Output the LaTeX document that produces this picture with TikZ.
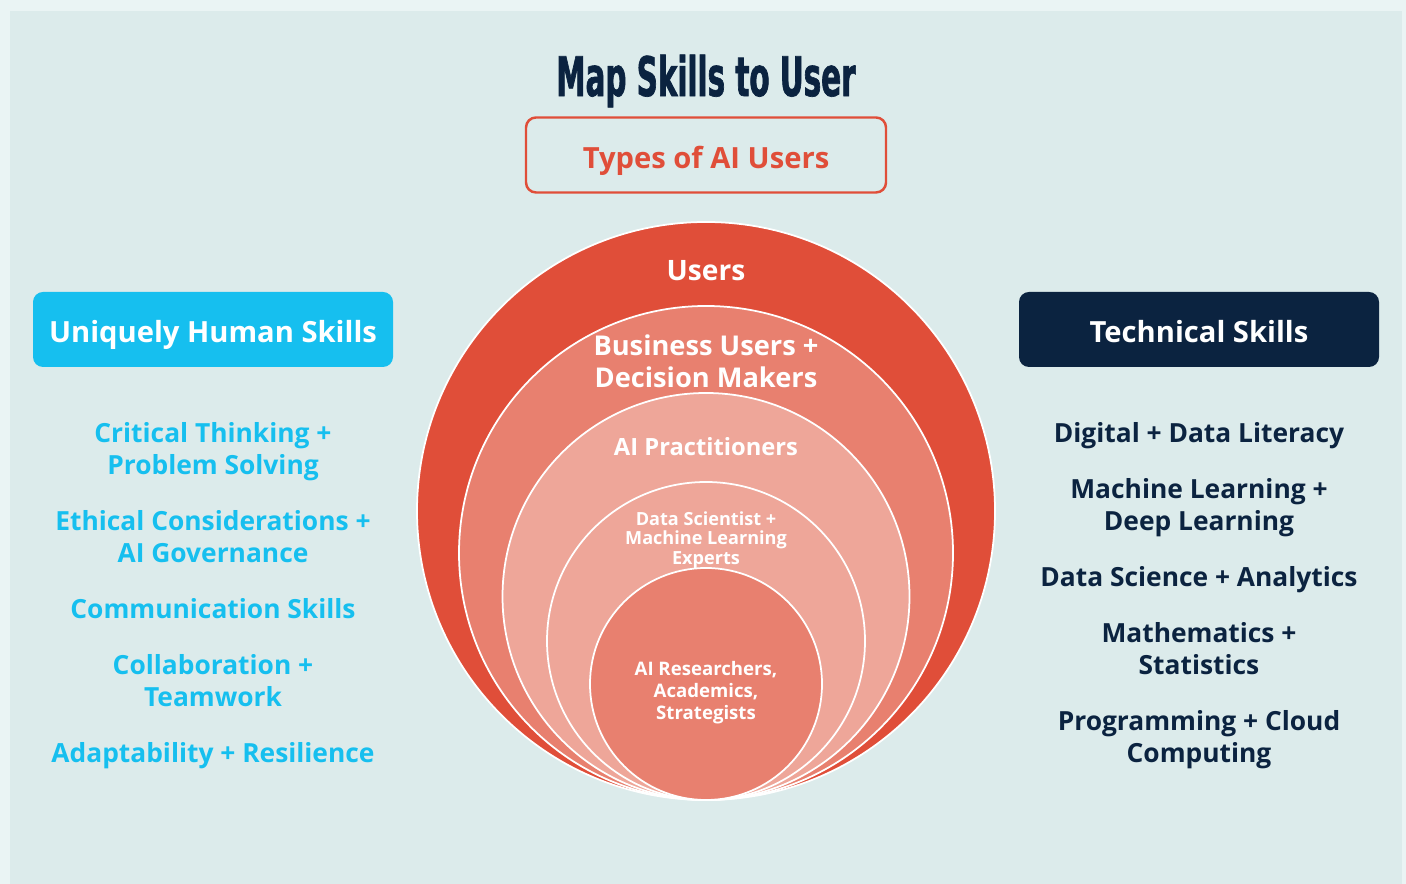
\documentclass[tikz,border=0pt]{standalone}
\usepackage{fontspec}
\setmainfont{Open Sans}
\newfontfamily\skillMapTitleFont[FakeStretch=0.6,FakeBold=1.2]{DejaVu Sans Condensed}

\definecolor{skillMapBackground}{RGB}{234,244,244}
\definecolor{skillMapPanel}{RGB}{220,235,235}
\definecolor{skillMapNavy}{RGB}{11,35,64}
\definecolor{skillMapRed}{RGB}{224,78,57}
\definecolor{skillMapSalmon}{RGB}{232,128,111}
\definecolor{skillMapBlush}{RGB}{238,166,153}
\definecolor{skillMapSky}{RGB}{22,191,239}

\begin{document}
\begin{tikzpicture}[x=1cm,y=1cm,
      title/.style={font=\fontsize{31}{34}\selectfont\skillMapTitleFont\bfseries,
        text=skillMapNavy},
      heading/.style={font=\fontsize{16.6}{20}\selectfont\bfseries,
        text=white, rounded corners=.2cm, minimum width=7.2cm,
        minimum height=1.5cm, text height=1.56em, text depth=.05em},
      humanskill/.style={font=\fontsize{15}{18.1}\selectfont\bfseries,
        text=skillMapSky, align=center},
      techskill/.style={font=\fontsize{15}{18.1}\selectfont\bfseries,
        text=skillMapNavy, align=center},
      ring/.style={draw=white, line width=1pt},
      ringlabel/.style 2 args={font=\fontsize{#1}{#2}\selectfont\bfseries,
        text=white, align=center}]
      \useasboundingbox (0,0) rectangle (28.12,17.68);
      \fill[skillMapBackground] (0,0) rectangle (28.12,17.68);
      \fill[skillMapPanel] (.20,0) rectangle (28.04,17.46);

      \node[title] (title) at (14.12,16.06) {Map Skills to User};
      \node[heading, draw=skillMapRed, line width=1.4pt, text=skillMapRed]
        (types) at (14.12,14.58) {Types of AI Users};

      % Nested user groups, all touching at the bottom.
      \path[ring, fill=skillMapRed] (14.12,7.46) circle (5.78);
      \path[ring, fill=skillMapSalmon] (14.12,6.62) circle (4.94);
      \path[ring, fill=skillMapBlush] (14.12,5.75) circle (4.07);
      \path[ring, fill=skillMapBlush] (14.12,4.86) circle (3.18);
      \path[ring, fill=skillMapSalmon] (14.12,4.00) circle (2.32);

      \node[ringlabel={16}{20}] (users) at (14.12,12.26) {Users};
      \node[ringlabel={15.5}{18.1}] (business) at (14.12,10.46)
        {Business Users +\\Decision Makers};
      \node[ringlabel={13.5}{18}] (practitioners) at (14.12,8.74) {AI Practitioners};
      \node[ringlabel={10.3}{11.2}] (scientists) at (14.12,6.88)
        {Data Scientist +\\Machine Learning\\Experts};
      \node[ringlabel={10.6}{12.5}] (researchers) at (14.12,3.82)
        {AI Researchers,\\Academics,\\Strategists};

      % Left column
      \node[heading, fill=skillMapSky] (human) at (4.26,11.09)
        {Uniquely Human Skills};
      \node[humanskill] (human1) at (4.26,8.64) {Critical Thinking +\\Problem Solving};
      \node[humanskill] (human2) at (4.26,6.94) {Ethical Considerations +\\AI Governance};
      \node[humanskill] (human3) at (4.26,5.50) {Communication Skills};
      \node[humanskill] (human4) at (4.26,4.06) {Collaboration +\\Teamwork};
      \node[humanskill] (human5) at (4.26,2.56) {Adaptability + Resilience};

      % Right column
      \node[heading, fill=skillMapNavy] (technical) at (23.98,11.09)
        {Technical Skills};
      \node[techskill] (tech1) at (23.98,8.96) {Digital + Data Literacy};
      \node[techskill] (tech2) at (23.98,7.52) {Machine Learning +\\Deep Learning};
      \node[techskill] (tech3) at (23.98,6.08) {Data Science + Analytics};
      \node[techskill] (tech4) at (23.98,4.70) {Mathematics +\\Statistics};
      \node[techskill] (tech5) at (23.98,2.88) {Programming + Cloud\\Computing};
    \end{tikzpicture}
\end{document}
